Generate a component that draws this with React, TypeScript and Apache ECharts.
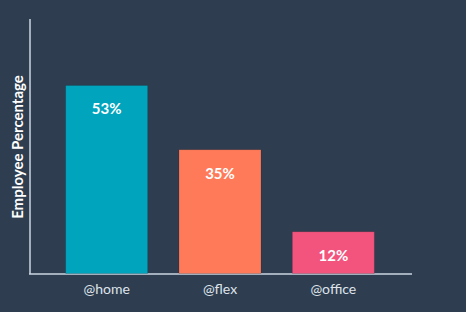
import React, { useEffect, useRef } from "react";
import * as echarts from "echarts";

const categories = ["@home", "@flex", "@office"];
const values = [53, 35, 12];
const barColors = ["#00a4bd", "#ff7a59", "#f2547d"];
const yAxisName = "Employee Percentage";

export default function App() {
  const ref = useRef<HTMLDivElement>(null);
  useEffect(() => {
    document.body.style.margin = "0";
    if (!ref.current) return;
    const chart = echarts.init(ref.current, null, { renderer: "svg" });
    chart.setOption({
      animation: false,
      backgroundColor: "#2e3e50",
      grid: { left: 50, right: 76, top: 60, bottom: 38 },
      xAxis: {
        type: "category",
        data: categories,
        axisLine: { show: false },
        axisTick: { show: false },
        axisLabel: {
          color: "#dfe3eb",
          fontFamily: "Lato",
          fontSize: 14,
          margin: 7,
        },
      },
      yAxis: {
        type: "value",
        min: 0,
        max: 60,
        show: false,
      },
      graphic: [
        {
          type: "line",
          shape: { x1: 30, y1: 19, x2: 30, y2: 274 },
          style: { stroke: "#cbd6e2", lineWidth: 1.5 },
        },
        {
          type: "line",
          shape: { x1: 29, y1: 274, x2: 412, y2: 274 },
          style: { stroke: "#cbd6e2", lineWidth: 1.5 },
        },
        {
          type: "text",
          x: 17,
          y: 147,
          rotation: Math.PI / 2,
          style: {
            text: yAxisName,
            fill: "#ffffff",
            font: "bold 15px Lato",
            align: "center",
            verticalAlign: "middle",
          },
        },
      ],
      series: [
        {
          type: "bar",
          barWidth: 83,
          data: values.map((v, i) => ({
            value: v,
            itemStyle: { color: barColors[i] },
          })),
          itemStyle: { borderColor: "rgba(0,0,0,0.12)", borderWidth: 1 },
          label: {
            show: true,
            position: "insideTop",
            distance: 16,
            color: "#ffffff",
            fontFamily: "Lato",
            fontWeight: "bold",
            fontSize: 15,
            formatter: "{c}%",
          },
        },
      ],
    });
    return () => chart.dispose();
  }, []);
  return <div ref={ref} style={{ width: 466, height: 312 }} />;
}
